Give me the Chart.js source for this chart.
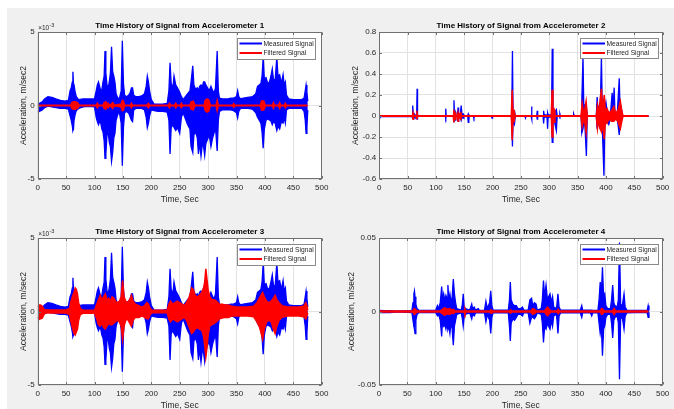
<!DOCTYPE html>
<html><head><meta charset="utf-8">
<script src="https://cdn.jsdelivr.net/npm/chart.js@4.4.1/dist/chart.umd.min.js"></script>
<style>
html,body{margin:0;padding:0;background:#fff;width:674px;height:409px;overflow:hidden;}
#panel{position:absolute;left:7px;top:8px;width:667px;height:401px;background:#f0f0f0;}
canvas{position:absolute;}
</style></head><body>
<div id="panel"></div>
<canvas id="c1" width="337" height="205" style="left:0;top:0"></canvas>
<canvas id="c2" width="337" height="205" style="left:337px;top:0"></canvas>
<canvas id="c3" width="337" height="205" style="left:0;top:206px"></canvas>
<canvas id="c4" width="337" height="205" style="left:337px;top:206px"></canvas>
<script>
// ---------- tick values ----------
const xTicks = [0,50,100,150,200,250,300,350,400,450,500];
const yTicks13 = [-5,0,5];            // shown with x10^-3 multiplier
const yTicks2 = [-0.6,-0.4,-0.2,0,0.2,0.4,0.6,0.8];
const yTicks4 = [-0.05,0,0.05];

// ---------- Accelerometer 1 (values in 1e-3 m/sec2) : time, upper / lower envelope ----------
const acc1MeasT = [0,3,8,12,18,25,32,40,48,54, 57,59,61,62,63,64,66,68,72,80, 90,100,103,105,107,109,111,113,115,117,
 118.5,120,122,124,126,128,130,132,134,136, 138,141,144,147,149,151,153,156,160,163, 165,167,169,173,178,183,188,191,193,195,
 197,200,205,212,220,228,231,233,235,238, 240,243,246,250,253,256,260,264,268,270, 273,275,278,281,283,285,287.5,290,292,294,
 296,299,302,305,308,311,313,316,318,320, 325,330,335,340,345,350,352,354,357,362, 370,378,384,387,390,393,395,397,399,402,
 405,408,410,413,415,418,421,423,426,429, 432,434,436,438,442,450,458,465,469,471, 472.5,474,475.5];
const acc1MeasHi = [0.1,0.15,0.25,0.45,0.6,0.55,0.45,0.35,0.3,0.35, 1.0,1.2,1.6,2.3,1.5,1.4,0.9,0.6,0.4,0.45, 0.45,0.45,1.0,1.4,1.6,1.3,1.0,1.1,1.6,2.0,
 3.7,2.2,1.4,1.2,1.6,2.2,4.0,2.3,2.0,1.6, 0.8,0.5,0.5,1.0,4.4,1.5,0.7,0.6,0.7,0.9, 1.2,1.2,0.7,0.6,0.6,0.65,0.8,1.3,2.0,1.6,
 1.0,0.4,0.1,0.1,0.1,0.15,1.0,2.9,1.5,1.2, 2.0,1.4,1.2,0.9,0.6,0.4,0.6,0.8,1.0,1.6, 2.7,1.4,1.1,1.2,1.0,1.3,1.4,1.3,1.6,1.6,
 1.4,1.2,1.0,1.3,1.0,0.9,1.2,3.7,1.0,0.5, 0.45,0.45,0.45,0.5,0.5,0.6,1.0,0.6,0.45,0.5, 0.55,0.6,0.8,1.3,1.4,1.5,2.0,3.3,1.8,1.9,
 1.5,1.6,1.9,2.5,1.8,1.7,3.3,2.0,2.1,1.5, 2.1,1.4,1.6,0.7,0.45,0.4,0.4,0.4,0.5,1.0, 1.4,0.9,0.3];
const acc1MeasLo = [-0.45,-0.4,-0.3,-0.15,-0.05,-0.1,-0.15,-0.2,-0.2,-0.25, -0.7,-1.0,-1.4,-1.7,-1.6,-1.0,-0.6,-0.35,-0.2,-0.1, -0.05,-0.1,-0.8,-1.1,-1.3,-1.1,-1.2,-1.6,-1.8,-2.4,
 -3.6,-3.3,-2.0,-1.8,-2.5,-2.8,-3.8,-3.2,-2.2,-1.9, -1.0,-0.6,-0.5,-1.2,-4.1,-1.5,-0.5,-0.4,-0.5,-0.8, -1.0,-1.1,-0.3,-0.2,-0.2,-0.2,-0.3,-0.8,-1.5,-1.2,
 -0.7,-0.3,-0.35,-0.4,-0.4,-0.45,-1.0,-3.3,-1.5,-1.3, -1.5,-1.7,-1.5,-1.9,-0.8,-0.5,-0.9,-1.3,-1.6,-2.8, -3.2,-2.0,-1.8,-2.2,-3.3,-2.5,-3.45,-2.6,-2.8,-3.4,
 -2.6,-2.3,-2.0,-2.8,-2.2,-1.8,-1.5,-3.1,-1.0,-0.4, -0.3,-0.3,-0.3,-0.3,-0.35,-0.5,-0.85,-0.4,-0.2,-0.2, -0.2,-0.25,-0.5,-0.8,-1.0,-1.2,-1.8,-2.9,-1.6,-1.0,
 -0.9,-1.0,-1.0,-1.3,-1.1,-1.2,-1.7,-1.4,-1.6,-1.1, -1.2,-0.8,-1.2,-0.3,-0.2,-0.2,-0.2,-0.2,-0.4,-1.0, -1.9,-1.5,-0.3];

const acc1FiltT = [0,58,60,63,66,70,73,103,105,107, 115,117,120,122,124,126,130,132,135,147, 149,151,153,163,165,167,192,195,197,230,
 232,234,241,243,245,251,253,255,268,270, 274,277,293,295,298,301,304,314,316,318, 343,345,347,392,394,398,401,413,415,417, 424,426,428,434,436,438,475];
const acc1FiltHi = [0.02,0.02,0.2,0.25,0.25,0.2,0.02,0.02,0.15,0.02, 0.02,0.2,0.25,0.02,0.15,0.02,0.1,0.2,0.02,0.1, 0.35,0.3,0.02,0.02,0.15,0.02,0.02,0.15,0.02,0.02,
 0.15,0.02,0.02,0.15,0.02,0.02,0.15,0.02,0.02,0.25, 0.3,0.02,0.02,0.35,0.45,0.4,0.02,0.02,0.35,0.02, 0.02,0.12,0.02,0.02,0.3,0.3,0.02,0.02,0.2,0.02, 0.02,0.2,0.02,0.02,0.15,0.02,0.02];
const acc1FiltLo = [-0.02,-0.02,-0.2,-0.25,-0.25,-0.2,-0.02,-0.02,-0.15,-0.02, -0.02,-0.2,-0.25,-0.02,-0.15,-0.02,-0.1,-0.2,-0.02,-0.1, -0.35,-0.3,-0.02,-0.02,-0.15,-0.02,-0.02,-0.15,-0.02,-0.02,
 -0.15,-0.02,-0.02,-0.15,-0.02,-0.02,-0.15,-0.02,-0.02,-0.25, -0.3,-0.02,-0.02,-0.35,-0.45,-0.4,-0.02,-0.02,-0.35,-0.02, -0.02,-0.12,-0.02,-0.02,-0.3,-0.3,-0.02,-0.02,-0.2,-0.02, -0.02,-0.2,-0.02,-0.02,-0.15,-0.02,-0.02];

// ---------- Accelerometer 3 (values in 1e-3 m/sec2) ----------
const acc3MeasT = acc1MeasT, acc3MeasHi = acc1MeasHi, acc3MeasLo = acc1MeasLo; // measured trace identical in the figure
const acc3FiltT = [0,2,5,8,11,14,30,50,56,58, 61,64,66,68,70,72,75,80,100,104, 107,110,113,116,119,122,125,128,131,134,
 137,140,144,147,149.5,152,155,158,162,165, 168,172,178,184,188,192,195,198,202,228, 231,234,238,242,246,250,254,258,262,266,
 269,271,274,277,281,285,289,292,294,296, 298,300,303,307,311,315,320,325,330,336, 342,350,360,370,380,386,390,393,396,399,
 403,407,411,415,418,421,425,430,440,450, 460,468,472,474,475.5];
const acc3FiltHi = [0.3,0.45,0.45,0.35,0.15,0.1,0.1,0.1,0.2,0.6, 1.0,1.3,1.6,1.5,1.2,0.6,0.2,0.08,0.08,0.5, 0.8,1.1,0.8,1.0,1.2,0.8,0.9,0.7,1.0,0.9,
 0.7,0.6,0.7,1.0,2.1,1.0,0.7,0.6,0.8,1.1, 0.7,0.5,0.4,0.3,0.4,0.6,0.5,0.2,0.08,0.08, 0.5,0.7,0.5,0.6,0.7,0.6,0.5,0.4,0.6,0.9,
 1.3,1.6,1.5,1.1,1.0,1.1,1.3,1.6,2.0,2.9, 2.2,1.5,1.0,0.8,0.8,0.7,0.5,0.5,0.45,0.45, 0.35,0.3,0.3,0.3,0.35,0.6,0.9,1.1,1.3,1.0,
 0.7,0.6,0.7,0.9,1.1,0.8,0.6,0.4,0.3,0.3, 0.3,0.35,0.6,0.4,0.1];
const acc3FiltLo = [-0.4,-0.55,-0.5,-0.45,-0.2,-0.1,-0.1,-0.1,-0.2,-0.6, -1.1,-1.5,-1.6,-1.4,-1.2,-0.6,-0.2,-0.12,-0.12,-0.5, -0.9,-1.0,-0.8,-1.1,-1.2,-1.0,-0.8,-0.9,-0.9,-0.8,
 -0.7,-0.6,-0.7,-1.0,-1.9,-1.0,-0.6,-0.5,-0.8,-1.0, -0.6,-0.4,-0.4,-0.3,-0.4,-0.5,-0.5,-0.2,-0.08,-0.08, -0.5,-0.7,-0.5,-0.6,-0.7,-0.6,-0.5,-0.4,-0.6,-1.0,
 -1.3,-1.5,-1.4,-1.2,-1.1,-1.2,-1.3,-1.7,-2.3,-3.1, -2.5,-1.6,-1.0,-0.9,-0.8,-0.7,-0.5,-0.45,-0.4,-0.4, -0.3,-0.3,-0.3,-0.3,-0.35,-0.7,-1.0,-1.4,-1.9,-1.2,
 -0.7,-0.6,-0.7,-1.2,-1.5,-1.0,-0.6,-0.4,-0.3,-0.3, -0.3,-0.35,-0.5,-0.3,-0.1];

// ---------- Accelerometer 2 (m/sec2) ----------
const acc2MeasT = [0,1,2,58,59,60,62,63,66,66.7, 67.5,116.5,117.3,118,131,131.8,132.6,134,135,138, 139,140,143,144.5,146,148,149,156,157,158,
 166,167,168,198,199,200,233,234,235,236, 238.5,240,257,258,259,268,268.7,269.5,278,278.7, 279.5,289,290,291,296,297,298,304,305.2,306.5,
 309,312.5,314,318,318.7,319.5,342,343,344,356, 357.5,359.5,361,363,365.5,367,370,383,384.5,386, 388.5,390,392,393.5,396.5,398,400,402,405,408,
 411,412.5,414.5,416,420,423.5,425,427,429,475];
const acc2MeasHi = [0.003,0.003,0.003,0.003,0.1,0.003,0.02,0.003,0.003,0.26, 0.003,0.003,0.07,0.003,0.003,0.15,0.02,0.04,0.003,0.003, 0.08,0.01,0.01,0.1,0.01,0.02,0.003,0.003,0.02,0.003,
 0.003,0.003,0.003,0.003,0.003,0.003,0.003,0.12,0.62,0.05, 0.05,0.003,0.003,0.003,0.003,0.003,0.09,0.003,0.003,0.05, 0.003,0.003,0.05,0.01,0.01,0.03,0.01,0.01,0.64,0.06,
 0.03,0.06,0.003,0.003,0.02,0.003,0.003,0.02,0.003,0.003, 0.16,0.56,0.05,0.1,0.08,0.003,0.003,0.003,0.18,0.05, 0.1,0.05,0.58,0.06,0.1,0.08,0.13,0.05,0.04,0.02,
 0.22,0.05,0.27,0.02,0.02,0.36,0.05,0.08,0.003,0.003];
const acc2MeasLo = [-0.03,-0.03,-0.005,-0.003,-0.03,-0.003,-0.02,-0.003,-0.003,-0.03, -0.003,-0.003,-0.02,-0.003,-0.003,-0.06,-0.02,-0.04,-0.003,-0.003, -0.05,-0.01,-0.01,-0.04,-0.01,-0.02,-0.003,-0.003,-0.06,-0.003,
 -0.003,-0.02,-0.003,-0.003,-0.02,-0.003,-0.003,-0.08,-0.29,-0.05, -0.08,-0.003,-0.003,-0.02,-0.003,-0.003,-0.03,-0.003,-0.003,-0.03, -0.003,-0.003,-0.07,-0.01,-0.01,-0.12,-0.01,-0.01,-0.25,-0.07,
 -0.05,-0.14,-0.003,-0.003,-0.01,-0.003,-0.003,-0.003,-0.003,-0.003, -0.16,-0.12,-0.05,-0.1,-0.38,-0.003,-0.003,-0.003,-0.12,-0.05, -0.1,-0.05,-0.1,-0.1,-0.57,-0.08,-0.07,-0.05,-0.08,-0.02,
 -0.04,-0.03,-0.03,-0.02,-0.02,-0.18,-0.05,-0.05,-0.003,-0.003];

const acc2FiltT = [0,58.5,59.5,60.5,65.5,66.5,67.5,130.5,131.5,132.5, 134,135,138,139,140,144,145,233,234.5,236,
 238,239.5,303.5,305,306.5,308.5,310,356,358,360, 362.5,365,367,383,385,387,389.5,392,394,397, 399,402,405,410,414,417,421,425.5,428,430, 475];
const acc2FiltHi = [0.003,0.003,0.03,0.003,0.003,0.05,0.003,0.003,0.06,0.02, 0.03,0.003,0.003,0.03,0.003,0.03,0.003,0.003,0.25,0.04,
 0.05,0.003,0.003,0.25,0.04,0.06,0.003,0.003,0.12,0.05, 0.06,0.14,0.003,0.003,0.1,0.03,0.14,0.26,0.06,0.2, 0.05,0.07,0.03,0.05,0.09,0.03,0.05,0.14,0.05,0.003, 0.003];
const acc2FiltLo = [-0.003,-0.003,-0.03,-0.003,-0.003,-0.03,-0.003,-0.003,-0.06,-0.02, -0.03,-0.003,-0.003,-0.05,-0.003,-0.03,-0.003,-0.003,-0.23,-0.04,
 -0.05,-0.003,-0.003,-0.2,-0.04,-0.06,-0.003,-0.003,-0.1,-0.05, -0.06,-0.16,-0.003,-0.003,-0.12,-0.03,-0.12,-0.15,-0.06,-0.22, -0.05,-0.07,-0.03,-0.05,-0.05,-0.03,-0.05,-0.12,-0.05,-0.003, -0.003];

// ---------- Accelerometer 4 (m/sec2) ----------
const acc4MeasT = [0,10,20,30,50,58,60,61.5,62.5,63.5, 65,67,70,100,103,105,108,110.5,112,114, 116,118,120,121.5,123,125,127,129,131,133,
 135,137,145,147,148.5,150,152,160,163.5,165, 168,170,175,177,186,188.5,191,195,197,199, 201,228,230,231.5,233,236,239,242,245,250,
 253,255,263,266,269,271,274,277,279,286, 288,290,292,294.5,297,299,301.5,304,306,308, 313,315.5,317.5,320,355,357.5,359,373,375,377,
 386,388,390,392,394,396,398,400,403,408, 410,412,414,416,420,422,424,426,429,432, 434,437,450,470,473,474.5,476];
const acc4MeasHi = [0.0008,0.0006,0.0005,0.0003,0.0005,0.0008,0.006,0.012,0.014,0.01, 0.005,0.002,0.0008,0.0008,0.004,0.002,0.006,0.017,0.008,0.012,
 0.007,0.011,0.009,0.018,0.008,0.012,0.006,0.01,0.022,0.012, 0.006,0.002,0.001,0.005,0.012,0.004,0.002,0.001,0.005,0.002,
 0.003,0.001,0.002,0.0008,0.001,0.007,0.002,0.006,0.014,0.004, 0.001,0.001,0.008,0.02,0.008,0.005,0.004,0.004,0.002,0.002,
 0.003,0.001,0.001,0.008,0.009,0.004,0.006,0.005,0.001,0.002, 0.008,0.021,0.01,0.018,0.008,0.01,0.012,0.006,0.01,0.003,
 0.002,0.012,0.003,0.001,0.001,0.004,0.001,0.001,0.001,0.0008, 0.001,0.008,0.02,0.012,0.03,0.01,0.012,0.004,0.002,0.002,
 0.008,0.018,0.006,0.004,0.003,0.008,0.047,0.005,0.004,0.012, 0.003,0.001,0.0008,0.0008,0.001,0.004,0.0005];
const acc4MeasLo = [-0.0008,-0.0006,-0.0008,-0.0003,-0.0005,-0.0008,-0.006,-0.01,-0.012,-0.015, -0.006,-0.002,-0.0008,-0.0008,-0.003,-0.002,-0.006,-0.017,-0.006,-0.01,
 -0.009,-0.012,-0.008,-0.012,-0.01,-0.015,-0.007,-0.012,-0.023,-0.01, -0.006,-0.002,-0.001,-0.005,-0.01,-0.004,-0.002,-0.001,-0.005,-0.002,
 -0.003,-0.001,-0.001,-0.0008,-0.001,-0.007,-0.002,-0.006,-0.015,-0.004, -0.001,-0.001,-0.01,-0.02,-0.008,-0.005,-0.006,-0.004,-0.002,-0.002,
 -0.003,-0.001,-0.001,-0.008,-0.004,-0.004,-0.005,-0.003,-0.001,-0.002, -0.008,-0.021,-0.01,-0.012,-0.008,-0.01,-0.012,-0.006,-0.01,-0.003,
 -0.002,-0.015,-0.003,-0.001,-0.001,-0.004,-0.001,-0.001,-0.003,-0.0008, -0.001,-0.008,-0.015,-0.01,-0.03,-0.012,-0.01,-0.004,-0.002,-0.002,
 -0.008,-0.018,-0.006,-0.004,-0.003,-0.008,-0.046,-0.005,-0.004,-0.012, -0.003,-0.001,-0.0008,-0.0008,-0.001,-0.004,-0.0005];

const acc4FiltT = [0,60,62,64,67,108,112,115,118,121, 125,128,131,134,150,151.5,153,196,197.5,199, 230,232,234,268,271,274,277,292,295,297.5,
 300,303,314,316,318,390,392.5,395,397,412, 414.5,417,475];
const acc4FiltHi = [0.0004,0.0004,0.002,0.0015,0.0004,0.0004,0.0015,0.0025,0.002,0.0015, 0.002,0.001,0.0015,0.0004,0.0004,0.002,0.0004,0.0004,0.0012,0.0004,
 0.0004,0.0012,0.0004,0.0004,0.002,0.0015,0.0004,0.0004,0.002,0.003, 0.0015,0.0004,0.0004,0.0015,0.0004,0.0004,0.002,0.0015,0.0004,0.0004, 0.002,0.0004,0.0004];
const acc4FiltLo = [-0.0004,-0.0004,-0.002,-0.0015,-0.0004,-0.0004,-0.0015,-0.0025,-0.002,-0.0015, -0.002,-0.001,-0.0015,-0.0004,-0.0004,-0.002,-0.0004,-0.0004,-0.0012,-0.0004,
 -0.0004,-0.0012,-0.0004,-0.0004,-0.002,-0.0015,-0.0004,-0.0004,-0.002,-0.003, -0.0015,-0.0004,-0.0004,-0.0015,-0.0004,-0.0004,-0.002,-0.0015,-0.0004,-0.0004, -0.002,-0.0004,-0.0004];

// ---------- styling ----------
const FONT = "'Liberation Sans', Arial, Helvetica, sans-serif";
const BLUE = '#0000ff', RED = '#ff0000';
const TXT = '#262626', GRID = '#e2e2e2', FRAME = '#707070';

function band(T, Hi, Lo, color, label, order, lw) {
  return [
    { label, data: T.map((t,i)=>({x:t, y:Hi[i]})), borderColor: color, backgroundColor: color,
      borderWidth: lw, pointRadius: 0, fill: '+1', order, tension: 0 },
    { label: label + ' lower', data: T.map((t,i)=>({x:t, y:Lo[i]})), borderColor: color, backgroundColor: color,
      borderWidth: lw, pointRadius: 0, fill: false, order, tension: 0, legendHidden: true }
  ];
}

const matlabFrame = {
  id: 'matlabFrame',
  beforeDraw(chart) {
    const a = chart.chartArea, c = chart.ctx;
    c.save(); c.fillStyle = '#fff'; c.fillRect(a.left, a.top, a.right - a.left, a.bottom - a.top); c.restore();
  },
  afterDatasetsDraw(chart, args, o) {
    const a = chart.chartArea, c = chart.ctx;
    const L = Math.round(a.left) + 0.5, R = Math.round(a.right) - 0.5, T = Math.round(a.top) + 0.5, B = Math.round(a.bottom) - 0.5;
    c.save();
    c.strokeStyle = FRAME; c.lineWidth = 1;
    c.strokeRect(L, T, R - L, B - T);
    c.beginPath();
    chart.scales.x.ticks.forEach(t => { const p = Math.round(chart.scales.x.getPixelForValue(t.value)) + 0.5;
      c.moveTo(p, B); c.lineTo(p, B - 2.5); c.moveTo(p, T); c.lineTo(p, T + 2.5); });
    chart.scales.y.ticks.forEach(t => { const p = Math.round(chart.scales.y.getPixelForValue(t.value)) + 0.5;
      c.moveTo(L, p); c.lineTo(L + 2.5, p); c.moveTo(R, p); c.lineTo(R - 2.5, p); });
    c.stroke();
    if (o.exponent) {
      c.fillStyle = TXT; c.textBaseline = 'alphabetic'; c.textAlign = 'left';
      c.font = '6.5px ' + FONT;
      c.fillText('\u00d710', a.left + 0.5, a.top - 2.5);
      const w = c.measureText('\u00d710').width;
      c.font = '5.5px ' + FONT;
      c.fillText(o.exponent, a.left + 0.8 + w, a.top - 5);
    }
    c.restore();
  },
  afterDraw(chart, args, o) {
    const a = chart.chartArea, c = chart.ctx, lg = o.legend;
    const x0 = Math.round(a.right - lg.right - lg.w) + 0.5, y0 = Math.round(a.top + lg.top) + 0.5;
    c.save();
    c.fillStyle = '#fff'; c.fillRect(x0, y0, lg.w, lg.h);
    c.strokeStyle = '#8a8a8a'; c.lineWidth = 1; c.strokeRect(x0, y0, lg.w, lg.h);
    const items = chart.data.datasets.filter(d => !d.legendHidden);
    items.forEach((d, i) => {
      const y = y0 + lg.row0 + i * lg.gap;
      c.strokeStyle = d.borderColor; c.lineWidth = 2;
      c.beginPath(); c.moveTo(x0 + 2, y); c.lineTo(x0 + 24.5, y); c.stroke();
      c.fillStyle = TXT; c.font = '6.7px ' + FONT; c.textBaseline = 'middle'; c.textAlign = 'left';
      c.fillText(d.label, x0 + 26, y + 0.3);
    });
    c.restore();
  }
};

function makeChart(id, cfg) {
  const font = { family: FONT, size: 8 };
  return new Chart(document.getElementById(id), {
    type: 'line',
    data: { datasets: [
      ...band(cfg.mT, cfg.mHi, cfg.mLo, BLUE, 'Measured Signal', 2, 1.3),
      ...band(cfg.fT, cfg.fHi, cfg.fLo, RED, 'Filtered Signal', 1, 1.5)
    ] },
    options: {
      responsive: false, animation: false, devicePixelRatio: 1, events: [],
      layout: { padding: { left: 0, right: cfg.padRight, top: 0, bottom: 0 } },
      plugins: {
        legend: { display: false }, tooltip: { enabled: false },
        title: { display: true, text: cfg.title, fullSize: false, color: '#000',
                 font: { family: FONT, size: 8, weight: 'bold' }, padding: { top: 20.8, bottom: 1.6 } },
        matlabFrame: { exponent: cfg.exponent, legend: cfg.legend }
      },
      scales: {
        x: { type: 'linear', min: 0, max: 500,
             afterFit: s => { s.height = 26; },
             afterBuildTicks: s => { s.ticks = xTicks.map(v => ({ value: v })); },
             ticks: { color: TXT, font, padding: 3.6, maxRotation: 0, autoSkip: false },
             grid: { color: GRID, drawTicks: false }, border: { display: false },
             title: { display: true, text: 'Time, Sec', color: TXT, font: { family: FONT, size: 8.5 }, padding: 0.3 } },
        y: { type: 'linear', min: cfg.yMin, max: cfg.yMax,
             afterFit: s => { s.width = cfg.yWidth; },
             afterBuildTicks: s => { s.ticks = cfg.yTicks.map(v => ({ value: v })); },
             ticks: { color: TXT, font, padding: 3, autoSkip: false, callback: v => String(v) },
             grid: { color: GRID, drawTicks: false }, border: { display: false },
             title: { display: true, text: 'Acceleration, m/sec2', color: TXT, font: { family: FONT, size: 8.5 }, padding: cfg.yTitlePad } }
      }
    },
    plugins: [matlabFrame]
  });
}

const legendL = { w: 78, h: 21, right: 6.4, top: 5.5, row0: 5, gap: 9.5 };
const legendR = { w: 78, h: 20, right: 5, top: 5.5, row0: 5, gap: 9.5 };

makeChart('c1', { title: 'Time History of Signal from Accelerometer 1', mT: acc1MeasT, mHi: acc1MeasHi, mLo: acc1MeasLo,
  fT: acc1FiltT, fHi: acc1FiltHi, fLo: acc1FiltLo, yMin: -5, yMax: 5, yTicks: yTicks13, exponent: '-3',
  yWidth: 37.7, padRight: 15.3, yTitlePad: 18.2, legend: legendL });
makeChart('c2', { title: 'Time History of Signal from Accelerometer 2', mT: acc2MeasT, mHi: acc2MeasHi, mLo: acc2MeasLo,
  fT: acc2FiltT, fHi: acc2FiltHi, fLo: acc2FiltLo, yMin: -0.6, yMax: 0.8, yTicks: yTicks2,
  yWidth: 42.3, padRight: 11.4, yTitlePad: 13.9, legend: legendR });
makeChart('c3', { title: 'Time History of Signal from Accelerometer 3', mT: acc3MeasT, mHi: acc3MeasHi, mLo: acc3MeasLo,
  fT: acc3FiltT, fHi: acc3FiltHi, fLo: acc3FiltLo, yMin: -5, yMax: 5, yTicks: yTicks13, exponent: '-3',
  yWidth: 37.7, padRight: 15.3, yTitlePad: 18.2, legend: legendL });
makeChart('c4', { title: 'Time History of Signal from Accelerometer 4', mT: acc4MeasT, mHi: acc4MeasHi, mLo: acc4MeasLo,
  fT: acc4FiltT, fHi: acc4FiltHi, fLo: acc4FiltLo, yMin: -0.05, yMax: 0.05, yTicks: yTicks4,
  yWidth: 42, padRight: 11.4, yTitlePad: 9.9, legend: legendR });
</script>
</body></html>
